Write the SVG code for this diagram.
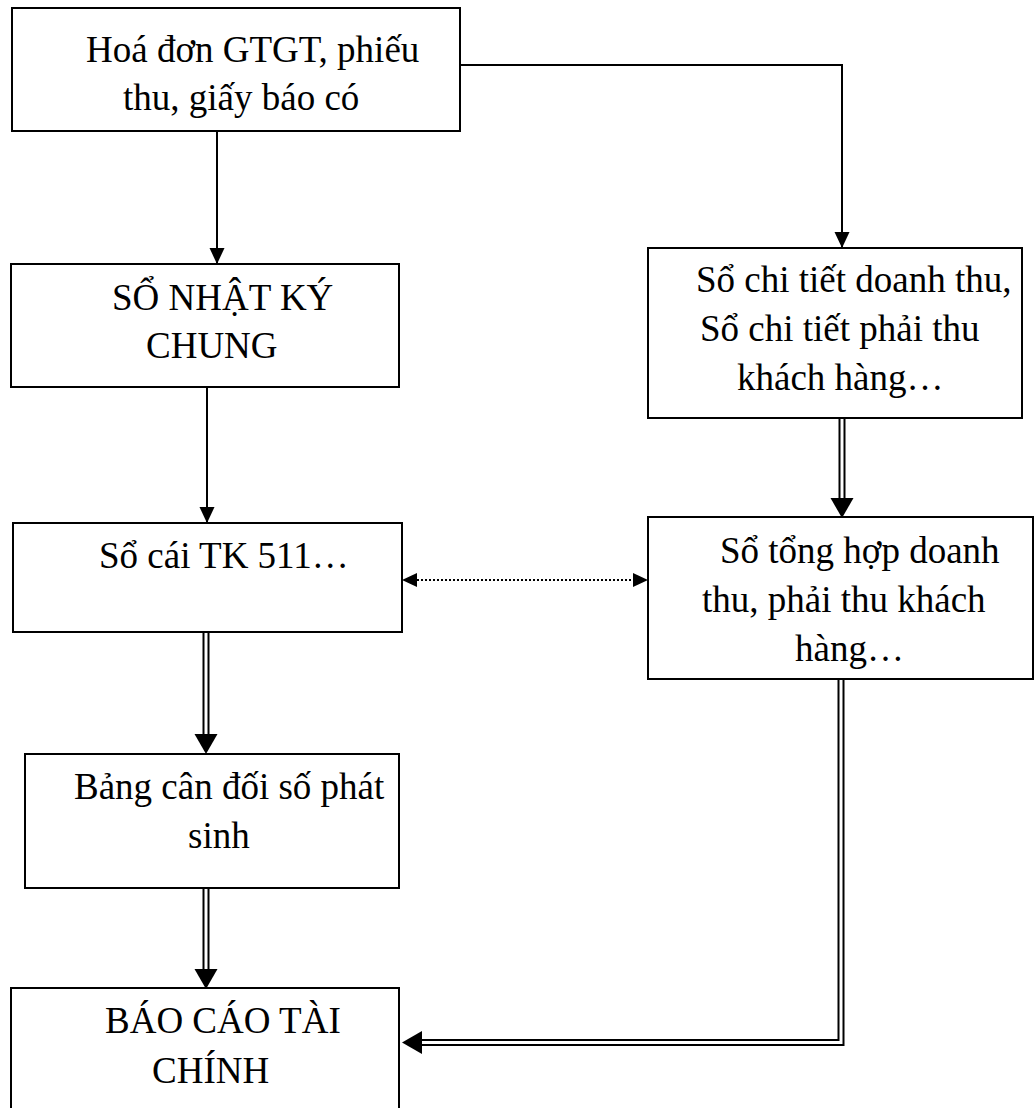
<svg xmlns="http://www.w3.org/2000/svg" width="1035" height="1108" viewBox="0 0 1035 1108">
  <style>
    .box { fill: #fff; stroke: #000; stroke-width: 2; }
    .lbl { font-family: "Liberation Serif", "Times New Roman", serif; font-size: 37px; fill: #000; }
    .line { fill: none; stroke: #000; stroke-width: 2; }
    .dbl { fill: none; stroke: #000; stroke-width: 7; stroke-linejoin: miter; }
    .dbl-in { fill: none; stroke: #fff; stroke-width: 3; stroke-linejoin: miter; }
    .dot { fill: none; stroke: #000; stroke-width: 2; stroke-dasharray: 2 2; }
  </style>
  <defs>
    <!-- small solid head, tip at path end -->
    <marker id="head" markerUnits="userSpaceOnUse" markerWidth="16" markerHeight="15" refX="16" refY="7.5" orient="auto" overflow="visible">
      <path d="M0,0 L16,7.5 L0,15 Z" fill="#000"/>
    </marker>
    <!-- large head for double-line connectors, base at path end -->
    <marker id="headBig" markerUnits="userSpaceOnUse" markerWidth="20" markerHeight="23" refX="0" refY="11.5" orient="auto" overflow="visible">
      <path d="M0,0 L20,11.5 L0,23 Z" fill="#000"/>
    </marker>
    <!-- heads for the dotted two-way link -->
    <marker id="dotEnd" markerUnits="userSpaceOnUse" markerWidth="15" markerHeight="14" refX="0" refY="7" orient="auto" overflow="visible">
      <path d="M0,0 L15,7 L0,14 Z" fill="#000"/>
    </marker>
    <marker id="dotStart" markerUnits="userSpaceOnUse" markerWidth="15" markerHeight="14" refX="15" refY="7" orient="auto" overflow="visible">
      <path d="M15,0 L0,7 L15,14 Z" fill="#000"/>
    </marker>
  </defs>

  <g id="connectors">
    <!-- single-line flows -->
    <path class="line" d="M217,132 V264" marker-end="url(#head)"/>
    <path class="line" d="M461,65 H842 V248" marker-end="url(#head)"/>
    <path class="line" d="M207,388 V523" marker-end="url(#head)"/>

    <!-- dotted two-way link -->
    <path class="dot" d="M417,580 H633" marker-start="url(#dotStart)" marker-end="url(#dotEnd)"/>

    <!-- double-line flows -->
    <path class="dbl" d="M842,419 V498" marker-end="url(#headBig)"/>
    <path class="dbl-in" d="M842,419 V498"/>

    <path class="dbl" d="M206,633 V734" marker-end="url(#headBig)"/>
    <path class="dbl-in" d="M206,633 V734"/>

    <path class="dbl" d="M206,889 V969" marker-end="url(#headBig)"/>
    <path class="dbl-in" d="M206,889 V969"/>

    <path class="dbl" d="M841,680 V1042.5 H422" marker-end="url(#headBig)"/>
    <path class="dbl-in" d="M841,680 V1042.5 H422"/>
  </g>

  <g id="hoa-don">
    <rect class="box" x="12" y="8" width="448" height="123"/>
    <text class="lbl" x="86" y="62">Hoá đơn GTGT, phiếu</text>
    <text class="lbl" x="123" y="110">thu, giấy báo có</text>
  </g>

  <g id="so-nhat-ky-chung">
    <rect class="box" x="11" y="264" width="388" height="123"/>
    <text class="lbl" x="112" y="310">SỔ NHẬT KÝ</text>
    <text class="lbl" x="146" y="358">CHUNG</text>
  </g>

  <g id="so-cai">
    <rect class="box" x="13" y="523" width="389" height="109"/>
    <text class="lbl" x="99" y="568">Sổ cái TK 511…</text>
  </g>

  <g id="bang-can-doi">
    <rect class="box" x="25" y="754" width="374" height="134"/>
    <text class="lbl" x="74" y="799">Bảng cân đối số phát</text>
    <text class="lbl" x="188" y="848">sinh</text>
  </g>

  <g id="bao-cao-tai-chinh">
    <rect class="box" x="11" y="988" width="388" height="140"/>
    <text class="lbl" x="105" y="1033">BÁO CÁO TÀI</text>
    <text class="lbl" x="152" y="1083">CHÍNH</text>
  </g>

  <g id="so-chi-tiet">
    <rect class="box" x="648" y="248" width="374" height="170"/>
    <text class="lbl" x="696" y="292">Sổ chi tiết doanh thu,</text>
    <text class="lbl" x="700" y="341">Sổ chi tiết phải thu</text>
    <text class="lbl" x="737" y="390">khách hàng…</text>
  </g>

  <g id="so-tong-hop">
    <rect class="box" x="648" y="517" width="385" height="162"/>
    <text class="lbl" x="720" y="563">Sổ tổng hợp doanh</text>
    <text class="lbl" x="702" y="612">thu, phải thu khách</text>
    <text class="lbl" x="795" y="661">hàng…</text>
  </g>
</svg>
